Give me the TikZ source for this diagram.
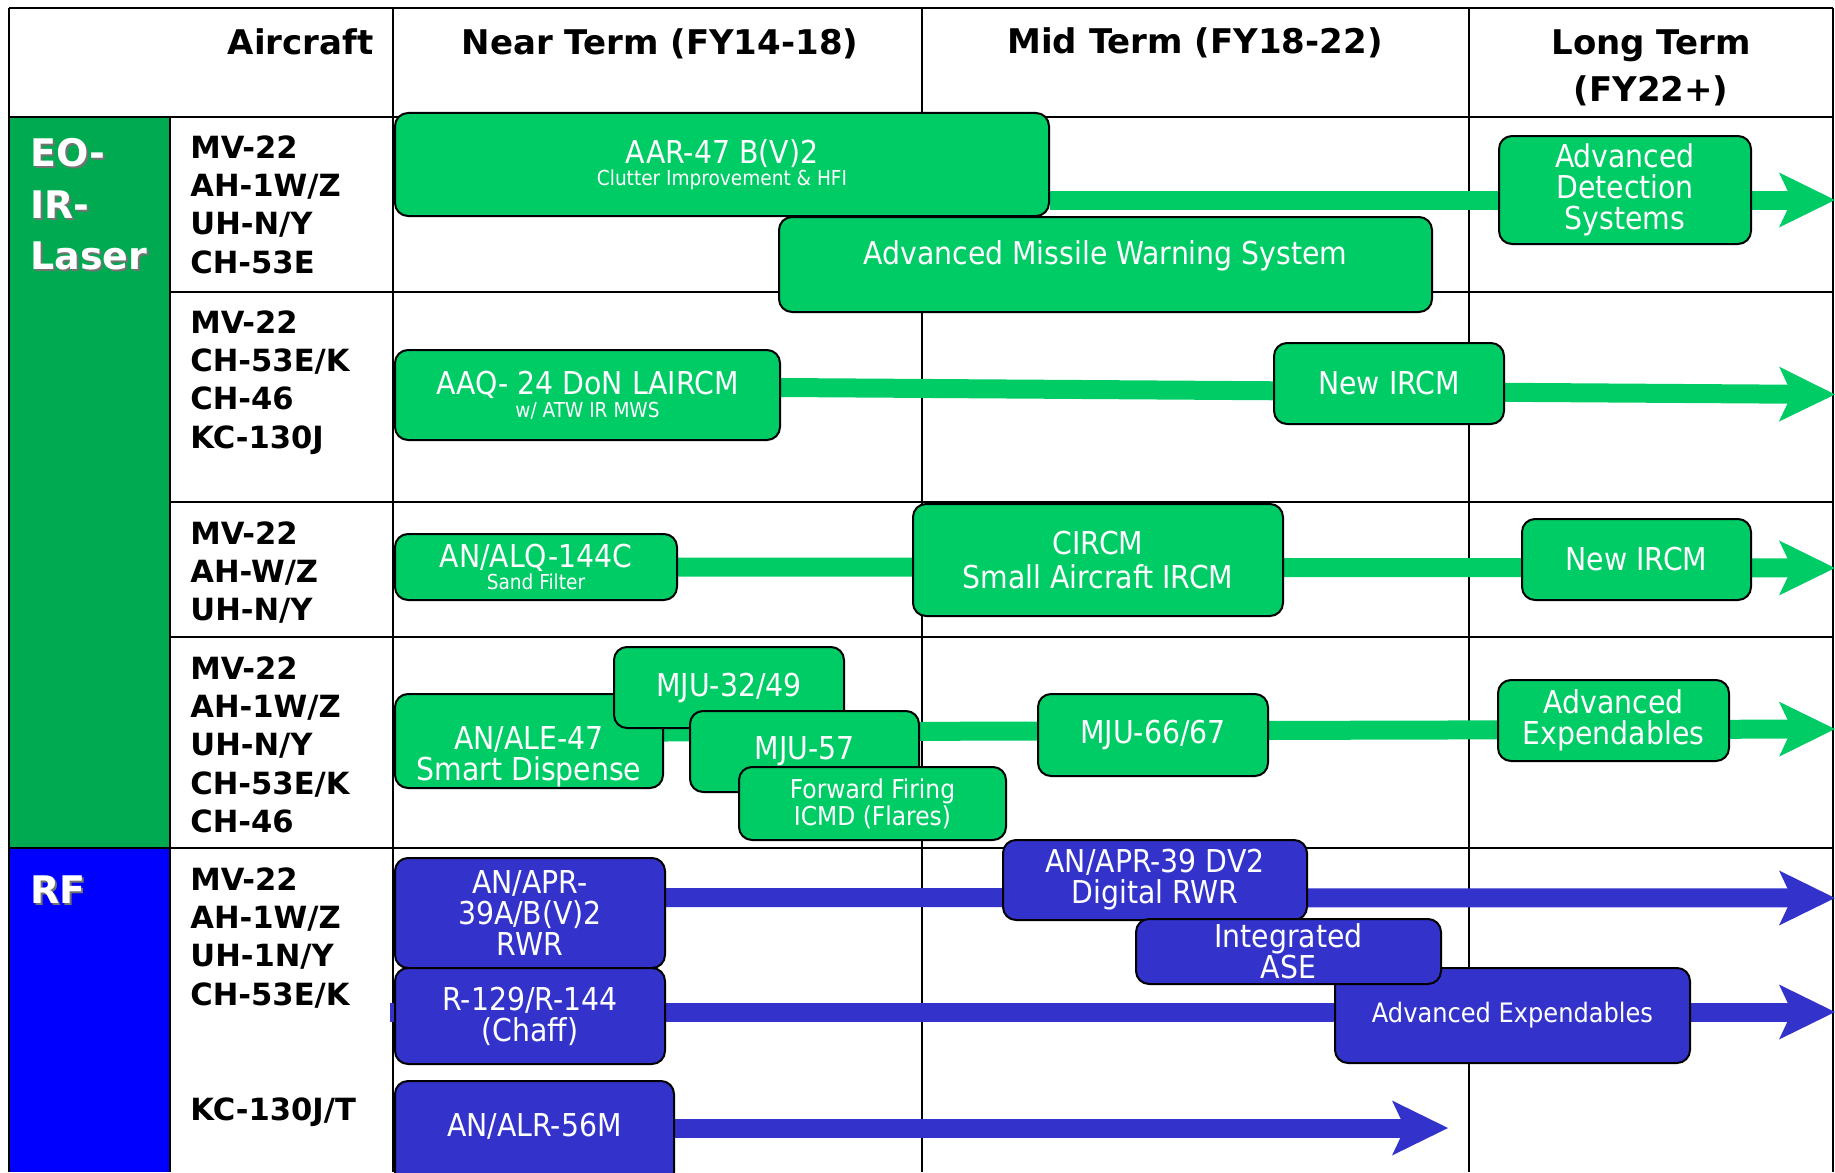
\documentclass[tikz,border=0pt]{standalone}
\usepackage{fontspec}
\setmainfont{DejaVu Sans}
\newfontfamily\condfont{DejaVu Sans Condensed}
\usepackage{xcolor}
\usetikzlibrary{positioning, calc, arrows.meta}

\definecolor{boxgreen}{RGB}{0,204,102}
\definecolor{catgreen}{RGB}{0,170,80}
\definecolor{catblue}{RGB}{0,0,255}
\definecolor{boxblue}{RGB}{51,51,204}

\newcommand{\subtxt}[1]{{\fontsize{10.3}{11}\selectfont #1}}

\pgfdeclarelayer{grid}
\pgfdeclarelayer{bars}
\pgfsetlayers{grid,bars,main}

\begin{document}
\begin{tikzpicture}[x=0.5pt, y=-0.5pt,
    gridline/.style={line width=1.3pt},
    gbox/.style={draw=black, line width=1pt, rounded corners=6.5pt, fill=boxgreen,
        text=white, align=center, inner sep=0pt,
        font=\condfont\fontsize{15.75}{15.5}\selectfont},
    bbox/.style={gbox, fill=boxblue},
    garrow/.style={draw=boxgreen, line width=9.5pt,
        -{Stealth[length=28pt, width=27.5pt, inset=6.5pt, line width=0pt]}},
    barrow/.style={garrow, draw=boxblue},
    hdr/.style={align=center, inner sep=0pt, font=\bfseries\fontsize{17}{23.5}\selectfont},
    craft/.style={anchor=north west, align=left, inner sep=0pt,
        font=\bfseries\fontsize{15.3}{19.15}\selectfont},
    cat/.style={anchor=north west, align=left, inner sep=0pt, text=white,
        font=\bfseries\fontsize{19}{25.75}\selectfont},
    catshadow/.style={cat, text=black!55}
]
    \useasboundingbox (0,0) rectangle (1835,1172);

    % --- Table grid ---
    \begin{pgfonlayer}{grid}
    \fill[catgreen] (9,117) rectangle (170,848);
    \fill[catblue] (9,848) rectangle (170,1172);
    \draw[gridline] (9,8) -- (1833,8);
    \draw[gridline] (9,117) -- (1833,117);
    \draw[gridline] (9,848) -- (1833,848);
    \draw[gridline] (170,292) -- (1833,292);
    \draw[gridline] (170,502) -- (1833,502);
    \draw[gridline] (170,637) -- (1833,637);
    \draw[gridline] (9,8) -- (9,1172);
    \draw[gridline] (170,117) -- (170,1172);
    \draw[gridline] (393,8) -- (393,1172);
    \draw[gridline] (922,8) -- (922,1172);
    \draw[gridline] (1469,8) -- (1469,1172);
    \draw[gridline] (1833,8) -- (1833,1172);
    \end{pgfonlayer}

    % --- Column headers ---
    \node[hdr, anchor=base east] (hAircraft) at (374,55) {Aircraft};
    \node[hdr, anchor=base] (hNear) at (660,55) {Near Term (FY14-18)};
    \node[hdr, anchor=base] (hMid) at (1195,54) {Mid Term (FY18-22)};
    \node[hdr, anchor=north] (hLong) at (1651,29) {Long Term\\(FY22+)};

    % --- Category labels (with shadow) ---
    \node[catshadow] at (32,140) {EO-\\IR-\\Laser};
    \node[cat] (catEO) at (30,138) {EO-\\IR-\\Laser};
    \node[catshadow] at (32,877) {RF};
    \node[cat] (catRF) at (30,875) {RF};

    % --- Aircraft lists ---
    \node[craft] (acA) at (190,135) {MV-22\\AH-1W/Z\\UH-N/Y\\CH-53E};
    \node[craft] (acB) at (190,310) {MV-22\\CH-53E/K\\CH-46\\KC-130J};
    \node[craft] (acC) at (190,521) {MV-22\\AH-W/Z\\UH-N/Y};
    \node[craft] (acD) at (190,656) {MV-22\\AH-1W/Z\\UH-N/Y\\CH-53E/K\\CH-46};
    \node[craft] (acE) at (190,867) {MV-22\\AH-1W/Z\\UH-1N/Y\\CH-53E/K};
    \node[craft] (acF) at (190,1097) {KC-130J/T};

    % --- EO-IR-Laser: missile warning row ---
    \node[gbox, minimum width=327pt, minimum height=51.5pt] (aar) at (722,164.5)
        {AAR-47 B(V)2\\[-4.5pt]\subtxt{Clutter Improvement \& HFI}};
    \node[gbox, minimum width=326.5pt, minimum height=47.5pt,
        text height=6pt, text depth=6pt] (amws) at (1105.5,264.5)
        {Advanced Missile Warning System};
    \node[gbox, minimum width=126pt, minimum height=54pt] (advdet) at (1625,190)
        {Advanced\\Detection\\Systems};

    % --- EO-IR-Laser: large aircraft IRCM row ---
    \node[gbox, minimum width=192.5pt, minimum height=45pt] (aaq) at (587.5,395)
        {AAQ- 24 DoN LAIRCM\\[-4pt]\subtxt{w/ ATW IR MWS}};
    \node[gbox, minimum width=115pt, minimum height=40.5pt] (ircmA) at (1389,383.5)
        {New IRCM};

    % --- EO-IR-Laser: small aircraft IRCM row ---
    \node[gbox, minimum width=141pt, minimum height=33pt] (alq) at (536,567)
        {AN/ALQ-144C\\[-4.5pt]\subtxt{Sand Filter}};
    \node[gbox, minimum width=185pt, minimum height=56pt] (circm) at (1098,560)
        {CIRCM\\[1.5pt]Small Aircraft IRCM};
    \node[gbox, minimum width=114.5pt, minimum height=40.5pt] (ircmB) at (1636.5,559.5)
        {New IRCM};

    % --- EO-IR-Laser: expendables row ---
    \node[gbox, minimum width=134pt, minimum height=47pt] (ale) at (529,741)
        {\rule{0pt}{27pt}AN/ALE-47\\Smart Dispense};
    \node[gbox, minimum width=115pt, minimum height=40.5pt] (mjuA) at (729,687.5)
        {MJU-32/49};
    \node[gbox, minimum width=114.5pt, minimum height=40.5pt] (mjuB) at (804.5,751.5)
        {MJU-57};
    \node[gbox, minimum width=133.5pt, minimum height=36.5pt,
        font=\condfont\fontsize{13}{12.5}\selectfont] (fwd) at (872.5,803.5)
        {Forward Firing\\ICMD (Flares)};
    \node[gbox, minimum width=115pt, minimum height=41pt] (mjuC) at (1153,735)
        {MJU-66/67};
    \node[gbox, minimum width=115.5pt, minimum height=40.5pt] (advexpG) at (1613.5,720.5)
        {Advanced\\Expendables};

    % --- RF rows ---
    \node[bbox, minimum width=135pt, minimum height=55pt] (aprA) at (530,913)
        {AN/APR-\\39A/B(V)2\\RWR};
    \node[bbox, minimum width=135pt, minimum height=48pt] (chaff) at (530,1016)
        {R-129/R-144\\(Chaff)};
    \node[bbox, minimum width=139.5pt, minimum height=52pt,
        text height=9pt, text depth=6pt] (alr) at (534.5,1133)
        {AN/ALR-56M};
    \node[bbox, minimum width=152pt, minimum height=40pt] (aprB) at (1155,880)
        {AN/APR-39 DV2\\Digital RWR};
    \node[bbox, minimum width=177.5pt, minimum height=47.5pt,
        font=\condfont\fontsize{13.4}{15}\selectfont] (advexpB) at (1512.5,1015.5)
        {Advanced Expendables};
    \node[bbox, minimum width=152.5pt, minimum height=32.5pt] (ase) at (1288.5,951.5)
        {Integrated\\ASE};

    % --- Arrow ends ---
    \coordinate (endAar) at (1835,200);
    \coordinate (endAaq) at (1835,394.5);
    \coordinate (endAlq) at (1835,568);
    \coordinate (endAle) at (1835,729);
    \coordinate (endApr) at (1835,898);
    \coordinate (endChaff) at (1835,1012);
    \coordinate (endAlr) at (1448,1128);

    % --- Timeline arrows (behind the boxes) ---
    \begin{pgfonlayer}{bars}
    \draw[garrow] (aar.east |- endAar) -- (endAar);
    \draw[garrow] ([yshift=3.75pt]aaq.east) -- (endAaq);
    \draw[garrow] (alq.east) -- (endAlq);
    \draw[garrow] ([yshift=4.5pt]ale.east) -- (endAle);
    \draw[barrow] ([yshift=7.75pt]aprA.east) -- (endApr);
    \draw[barrow] ([shift={(-2pt,2pt)}]chaff.west) -- (endChaff);
    \draw[barrow] ([yshift=2.5pt]alr.east) -- (endAlr);
    \end{pgfonlayer}

\end{tikzpicture}
\end{document}
